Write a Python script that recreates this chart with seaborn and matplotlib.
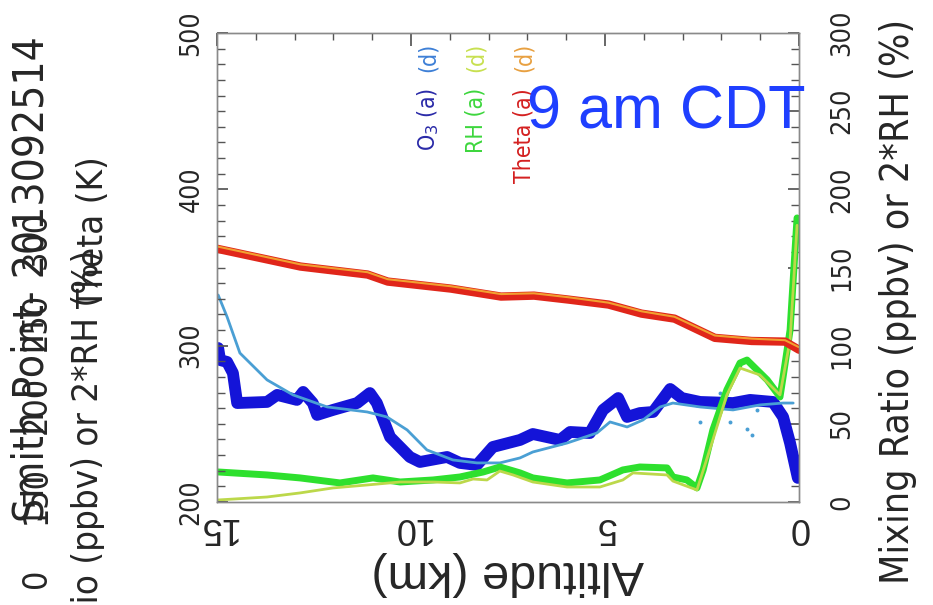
import matplotlib
matplotlib.use("Agg")
import matplotlib.pyplot as plt
import seaborn as sns
from matplotlib import font_manager
from matplotlib.font_manager import FontProperties
from matplotlib.textpath import TextPath
from matplotlib.ticker import MultipleLocator

# Altitude (km) and potential temperature (K), left axis
alt_theta = [15, 12.85, 11.12, 10.6, 8.97, 7.68, 6.83, 5.95, 4.91, 4.06, 3.21, 2.17, 1.22, 0.36, 0]
theta_a = [362, 350.6, 345.5, 341, 336.5, 331.4, 332, 329.5, 326.3, 320.5, 317.3, 305, 303, 302.6, 297.4]
theta_d = [363.5, 352, 347, 342.5, 338, 333, 333.5, 331, 327.5, 322, 318.5, 306.5, 304.5, 303.5, 299]

# Ozone (ppbv), right axis
alt_o3a = [14.97, 14.92, 14.74, 14.59, 14.48, 13.71, 13.45, 12.94, 12.78, 12.53, 12.42, 12.01, 11.39,
           11.06, 10.88, 10.54, 10.03, 9.77, 9.07, 8.74, 8.30, 7.89, 7.19, 6.86, 6.16, 5.90, 5.39,
           5.05, 4.66, 4.43, 4.10, 3.76, 3.32, 3.02, 2.55, 1.70, 1.26, 0.67, 0.41, 0.23, 0.03]
o3_a = [98.5, 90.8, 89.6, 82.5, 63.3, 64, 68.5, 65.3, 70.4, 63.3, 55.7, 58.9, 63.3,
        69.7, 63.3, 41.6, 28.8, 25.6, 28.8, 25, 23.7, 35.2, 39.7, 43.5, 39.7, 44.8, 44.1,
        58.9, 66.5, 54.4, 56.9, 57.6, 72.3, 66.5, 64, 63.3, 65.3, 64, 54.4, 37.7, 15.4]
alt_o3d = [14.97, 14.74, 14.41, 13.71, 13.04, 12.16, 11.13, 10.62, 10.10, 9.59, 8.92, 8.30, 7.71,
           7.19, 6.86, 5.98, 5.21, 4.87, 4.43, 4.02, 3.58, 3.25, 2.55, 1.70, 1.01, 0.41, 0.15]
o3_d = [132.4, 118.4, 95.3, 78.1, 68.5, 60.8, 57.6, 54.4, 46.1, 33.3, 26.9, 25, 25,
        28.2, 32, 37.7, 44.1, 51.2, 48, 52.5, 60.8, 63.3, 60.8, 58.9, 62.1, 63.3, 63.3]
alt_o3d_dots = [2.55, 2.04, 1.78, 1.34, 1.21, 1.08]
o3_d_dots = [51, 70, 51, 47, 43, 59]

# 2*RH (%), right axis
alt_rha = [14.97, 13.71, 12.86, 11.83, 10.98, 10.28, 9.43, 8.74, 8.14, 7.71, 7.19, 6.86, 5.98, 5.13,
           4.54, 4.10, 3.40, 3.25, 2.89, 2.63, 2.47, 2.22, 1.86, 1.52, 1.34, 0.82, 0.49, 0.41, 0.23,
           0.15, 0.05]
rh_a = [19.2, 17.3, 15.4, 12.2, 15.4, 12.8, 14.1, 16, 19.2, 22.4, 18.6, 15.4, 12.2, 14.1,
        20.5, 22.4, 21.8, 16, 14.1, 9, 20.5, 46.1, 71.7, 88.9, 90.8, 78.1, 67.2, 80, 110,
        142, 181.7]
alt_rhd = [14.97, 13.71, 12.86, 12.01, 11.13, 10.28, 9.43, 8.74, 8.40, 8.04, 7.71, 7.37, 6.86, 5.98,
           5.13, 4.54, 4.28, 3.40, 3.25, 2.63, 2.22, 1.86, 1.52, 1.01, 0.49, 0.23, 0.05]
rh_d = [1.3, 3.2, 5.8, 9, 10.9, 12.8, 12.8, 12.2, 14.7, 14.1, 19.8, 17.3, 12.8, 9.6,
        9.6, 14.1, 18.6, 17.3, 13.4, 7.7, 39.7, 68.5, 85.7, 81.3, 68.5, 103.6, 177]

alt_ticks = [15, 10, 5, 0]
theta_ticks = [200, 300, 400, 500]
mix_ticks = [0, 50, 100, 150, 200, 250, 300]
stray_ticks = ["0", "150", "200", "250", "300"]

sns.set_theme(style="white")
plt.rcParams["font.family"] = ["Liberation Sans", "DejaVu Sans"]

# narrow font for the rotated (squeezed) texts, if one is installed
narrow = None
for f in font_manager.fontManager.ttflist:
    nm = f.name.lower()
    if ("narrow" in nm or "condensed" in nm or "condensed" in str(f.stretch)) and "mono" not in nm \
            and "serif" not in nm and f.weight in (400, "normal", "regular") and f.style == "normal":
        narrow = FontProperties(family=f.name, stretch=f.stretch)
        break
if narrow is None:
    narrow = FontProperties(family="DejaVu Sans")


def fit(txt, length_px):
    # font size (pt) that gives the text a run length of length_px at 100 dpi
    w = TextPath((0, 0), txt, size=100, prop=narrow).get_extents().width
    return 100 * length_px * 0.72 / w


def nprop(size):
    p = narrow.copy()
    p.set_size(size)
    return p


W, H = 933, 605
fig = plt.figure(figsize=(W / 100, H / 100), dpi=100)
ax = fig.add_axes([217 / W, 1 - 502 / H, 582 / W, 469 / H])
ax2 = ax.twinx()

# profiles
sns.lineplot(x=alt_o3a, y=o3_a, ax=ax2, color="#1414d8", lw=8.5, sort=False, estimator=None)
sns.lineplot(x=alt_o3d, y=o3_d, ax=ax2, color="#4a9fd4", lw=2, sort=False, estimator=None)
sns.scatterplot(x=alt_o3d_dots, y=o3_d_dots, ax=ax2, color="#4a9fd4", s=8, linewidth=0)
sns.lineplot(x=alt_rha, y=rh_a, ax=ax2, color="#2ee02e", lw=5, sort=False, estimator=None)
sns.lineplot(x=alt_rhd, y=rh_d, ax=ax2, color="#bcd84a", lw=2, sort=False, estimator=None)
sns.lineplot(x=alt_theta, y=theta_a, ax=ax, color="#e0261a", lw=6, sort=False, estimator=None)
sns.lineplot(x=alt_theta, y=theta_d, ax=ax, color="#f2a030", lw=1.5, sort=False, estimator=None)
ax.set_zorder(ax2.get_zorder() + 1)
ax.patch.set_visible(False)

ax.set_xlim(15, 0)
ax.set_ylim(200, 500)
ax2.set_ylim(0, 300)

# x axis (upside down labels)
ax.set_xticks(alt_ticks)
ax.set_xticklabels([str(t) for t in alt_ticks], rotation=180, fontsize=26)
ax.xaxis.set_minor_locator(MultipleLocator(1))
ax.tick_params(axis="x", which="major", direction="in", length=9, top=True, color="#555555", pad=6)
ax.tick_params(axis="x", which="minor", direction="in", length=5, top=True, color="#555555")
ax.set_xlabel("Altitude (km)", rotation=180, fontsize=35, labelpad=4)

# left axis: theta
ax.set_yticks(theta_ticks)
ax.set_yticklabels([str(t) for t in theta_ticks], rotation=90, va="center",
                   fontproperties=nprop(fit("500", 42)))
ax.yaxis.set_minor_locator(MultipleLocator(10))
ax.tick_params(axis="y", which="major", direction="in", length=8, color="#555555", pad=9)
ax.tick_params(axis="y", which="minor", direction="in", length=6, color="#555555")
ax.set_ylabel("Theta (K)", fontproperties=nprop(fit("o (ppbv) or 2*RH (%)", 340)))
ax.yaxis.set_label_coords((110 - 217) / 582, (502 - 232) / 469)

# right axis: mixing ratio
ax2.set_yticks(mix_ticks)
ax2.set_yticklabels([str(t) for t in mix_ticks], rotation=90, va="center",
                    fontproperties=nprop(fit("300", 43)))
ax2.yaxis.set_minor_locator(MultipleLocator(10))
ax2.tick_params(axis="y", which="major", direction="in", length=8, color="#555555", pad=22)
ax2.tick_params(axis="y", which="minor", direction="in", length=6, color="#555555")
ax2.set_ylabel("Mixing Ratio (ppbv) or 2*RH (%)",
               fontproperties=nprop(fit("Mixing Ratio (ppbv) or 2*RH (%)", 558)))
ax2.yaxis.set_label_coords((879 - 217) / 582, (502 - 301) / 469)

for a in (ax, ax2):
    for s in a.spines.values():
        s.set_color("#8a8a8a")
        s.set_linewidth(1)

# stray rotated texts on the left edge
fig.text(32 / W, 1 - 522 / H, "Smith Point- 2013092514", rotation=90, ha="center", va="bottom",
         fontproperties=nprop(fit("Smith Point- 2013092514", 482)))
for lbl, yc in zip(stray_ticks, [578, 495, 405, 322, 240]):
    fig.text(36 / W, 1 - yc / H, lbl, rotation=90, ha="center", va="center",
             fontproperties=nprop(fit("200", 54)))
fig.text(88 / W, 1 - 250 / H, "Mixing Ratio (ppbv) or 2*RH (%)", rotation=90, ha="center",
         va="top", fontproperties=nprop(fit("o (ppbv) or 2*RH (%)", 340)))

# legend labels
leg_size = fit("Theta (a)", 93)
legend = [("O$_3$ (a)", "#2a2aa8", "(d)", "#3d7fd6", 428),
          ("RH (a)", "#3dd63d", "(d)", "#c8e050", 476),
          ("Theta (a)", "#d42020", "(d)", "#e8a040", 524)]
for txt_a, col_a, txt_d, col_d, xc in legend:
    fig.text(xc / W, 1 - 88 / H, txt_a, rotation=90, ha="center", va="top",
             color=col_a, fontproperties=nprop(leg_size))
    fig.text(xc / W, 1 - 43 / H, txt_d, rotation=90, ha="center", va="top",
             color=col_d, fontproperties=nprop(leg_size))

fig.text(527 / W, 1 - 128 / H, "9 am CDT", color="#1f3fff", fontsize=44, ha="left", va="baseline")

fig.savefig("out.png", dpi=100)
